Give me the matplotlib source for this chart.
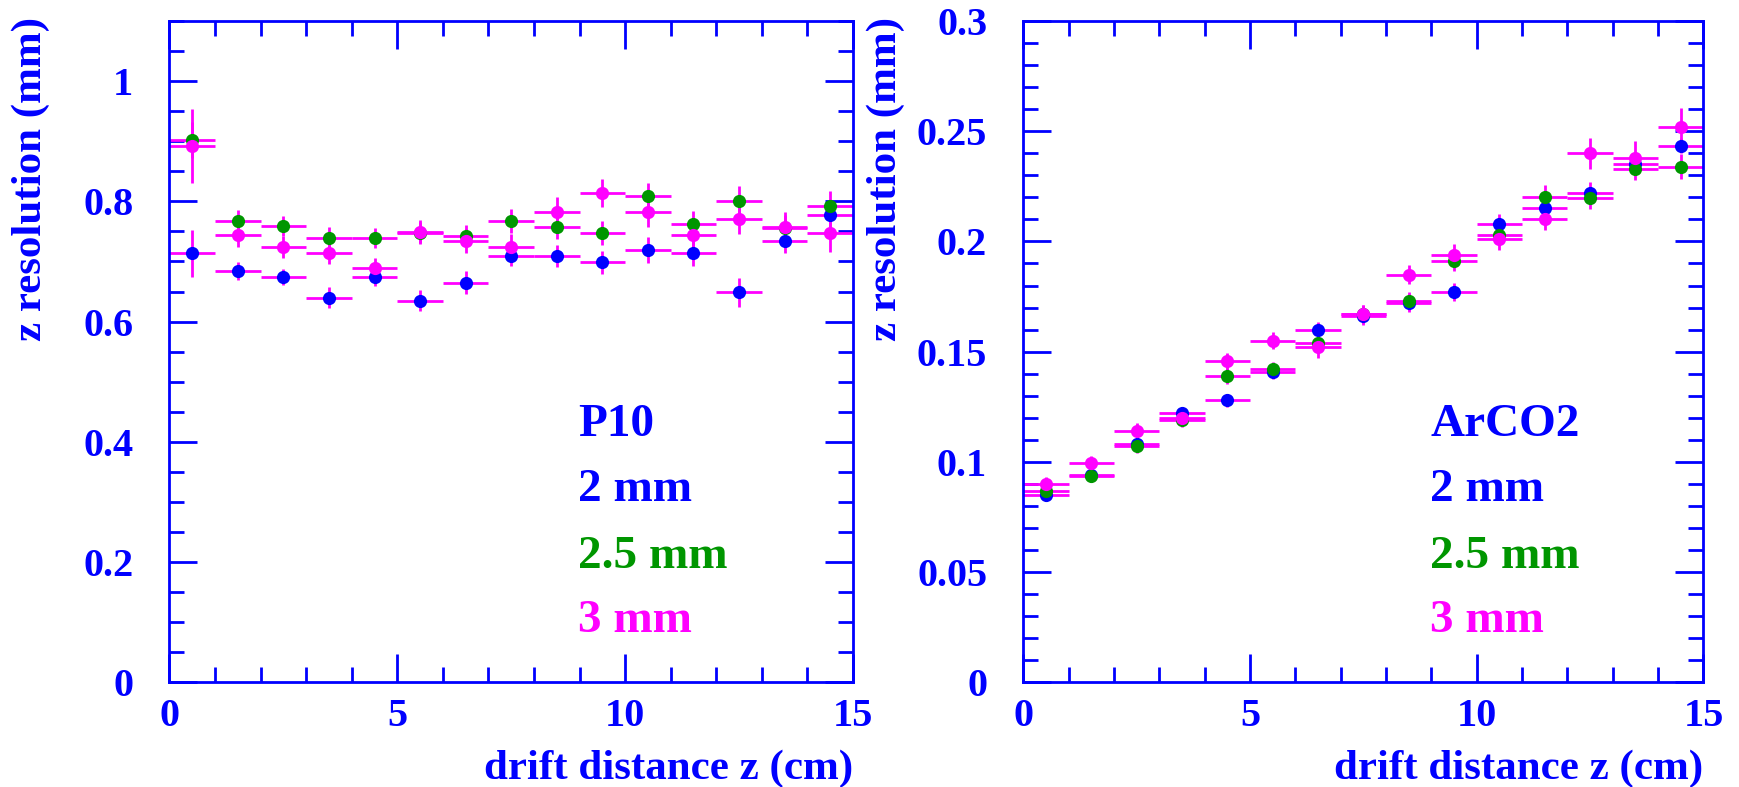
import matplotlib
matplotlib.use("Agg")
import matplotlib.pyplot as plt
from matplotlib.ticker import MultipleLocator, FormatStrFormatter, FuncFormatter
import numpy as np

# bin centres (cm), bin half-width 0.5
z = [0.5, 1.5, 2.5, 3.5, 4.5, 5.5, 6.5, 7.5, 8.5, 9.5, 10.5, 11.5, 12.5, 13.5, 14.5]
z_halfwidth = 0.5

# P10 resolution (mm)
p10_2mm = [0.714, 0.684, 0.674, 0.640, 0.674, 0.635, 0.665, 0.709, 0.709, 0.699, 0.719, 0.714, 0.649, 0.734, 0.778]
p10_2mm_err = [0.039, 0.015, 0.013, 0.017, 0.015, 0.017, 0.019, 0.016, 0.018, 0.019, 0.022, 0.021, 0.024, 0.020, 0.022]
p10_25mm = [0.902, 0.768, 0.759, 0.739, 0.739, 0.748, 0.742, 0.768, 0.758, 0.748, 0.809, 0.763, 0.801, 0.755, 0.793]
p10_25mm_err = [0.030, 0.018, 0.016, 0.018, 0.016, 0.018, 0.018, 0.020, 0.020, 0.020, 0.022, 0.021, 0.024, 0.022, 0.025]
p10_3mm = [0.892, 0.744, 0.724, 0.714, 0.689, 0.749, 0.734, 0.724, 0.783, 0.814, 0.783, 0.744, 0.771, 0.758, 0.748]
p10_3mm_err = [0.062, 0.020, 0.018, 0.018, 0.016, 0.020, 0.020, 0.022, 0.024, 0.024, 0.026, 0.023, 0.026, 0.025, 0.032]

# ArCO2 resolution (mm)
arco2_2mm = [0.085, 0.094, 0.108, 0.122, 0.128, 0.141, 0.160, 0.166, 0.172, 0.177, 0.208, 0.215, 0.222, 0.235, 0.2435]
arco2_2mm_err = [0.0025, 0.0025, 0.003, 0.003, 0.003, 0.0035, 0.0035, 0.004, 0.004, 0.004, 0.0045, 0.0045, 0.005, 0.005, 0.0035]
arco2_25mm = [0.087, 0.0937, 0.107, 0.119, 0.139, 0.142, 0.154, 0.167, 0.173, 0.191, 0.203, 0.220, 0.2196, 0.233, 0.234]
arco2_25mm_err = [0.003, 0.003, 0.003, 0.003, 0.0035, 0.0035, 0.004, 0.004, 0.004, 0.0045, 0.0045, 0.0057, 0.005, 0.005, 0.0055]
arco2_3mm = [0.090, 0.0995, 0.114, 0.120, 0.1456, 0.155, 0.152, 0.167, 0.185, 0.194, 0.201, 0.210, 0.240, 0.238, 0.252]
arco2_3mm_err = [0.003, 0.003, 0.0035, 0.0035, 0.004, 0.004, 0.005, 0.004, 0.0045, 0.005, 0.005, 0.005, 0.007, 0.0075, 0.0084]

labels = ["2 mm", "2.5 mm", "3 mm"]
gases = ["P10", "ArCO2"]

BLUE = "#0000FF"
GREEN = "#009600"
MAGENTA = "#FF00FF"
FONT = "Liberation Serif"

plt.rcParams["font.family"] = [FONT, "DejaVu Serif"]
plt.rcParams["font.weight"] = "bold"

fig = plt.figure(figsize=(17.4, 7.87), dpi=100)
ax_l = fig.add_axes([0.0974, 0.1330, 0.3928, 0.8403])
ax_r = fig.add_axes([0.5881, 0.1330, 0.3909, 0.8403])


def gfmt(v, _pos):
    return f"{v:.2f}".rstrip("0").rstrip(".") if v != 0 else "0"


def style(ax, ymax, ymajor, yminor):
    ax.set_xlim(0, 15)
    ax.set_ylim(0, ymax)
    ax.xaxis.set_major_locator(MultipleLocator(5))
    ax.xaxis.set_minor_locator(MultipleLocator(1))
    ax.yaxis.set_major_locator(MultipleLocator(ymajor))
    ax.yaxis.set_minor_locator(MultipleLocator(yminor))
    ax.yaxis.set_major_formatter(FuncFormatter(gfmt))
    ax.xaxis.set_major_formatter(FormatStrFormatter("%d"))
    for sp in ax.spines.values():
        sp.set_color(BLUE)
        sp.set_linewidth(2.0)
    ax.tick_params(which="both", direction="in", top=True, right=True,
                   color=BLUE, width=2.0, labelcolor=BLUE, labelsize=29)
    ax.tick_params(which="major", length=20)
    ax.tick_params(which="minor", length=11)
    ax.tick_params(axis="x", which="major", pad=11.5)
    ax.tick_params(axis="y", which="major", pad=26)
    for lab in ax.get_xticklabels() + ax.get_yticklabels():
        lab.set_fontweight("bold")


def draw(ax, series, errs):
    colors = [BLUE, GREEN, MAGENTA]
    for vals, e, c in zip(series, errs, colors):
        ax.errorbar(z, vals, xerr=z_halfwidth, yerr=e, fmt="o", color=c,
                    ecolor=MAGENTA, elinewidth=2.0, capsize=0,
                    markersize=9.5, markeredgewidth=0)


draw(ax_l, [p10_2mm, p10_25mm, p10_3mm], [p10_2mm_err, p10_25mm_err, p10_3mm_err])
draw(ax_r, [arco2_2mm, arco2_25mm, arco2_3mm], [arco2_2mm_err, arco2_25mm_err, arco2_3mm_err])
style(ax_l, 1.1, 0.2, 0.05)
style(ax_r, 0.3, 0.05, 0.01)

# in-pad labels
rows = [0.3726, 0.2744, 0.1731, 0.0763]
for ax, gas in zip([ax_l, ax_r], gases):
    texts = [gas] + labels
    cols = [BLUE, BLUE, GREEN, MAGENTA]
    for t, c, yy in zip(texts, cols, rows):
        ax.text(0.598, yy, t, transform=ax.transAxes, color=c, fontsize=34,
                fontweight="bold", ha="left", va="baseline")

# axis titles
for xr, yl in [(853 / 1740, 31 / 1740), (1703.5 / 1740, 886 / 1740)]:
    fig.text(xr, 0.0102, "drift distance z (cm)", color=BLUE, fontsize=31,
             fontweight="bold", ha="right", va="baseline")
    fig.text(yl, 1 - 17 / 787, "z resolution (mm)", color=BLUE, fontsize=31,
             fontweight="bold", rotation=90, ha="center", va="top")

fig.savefig("out.png", dpi=100)
